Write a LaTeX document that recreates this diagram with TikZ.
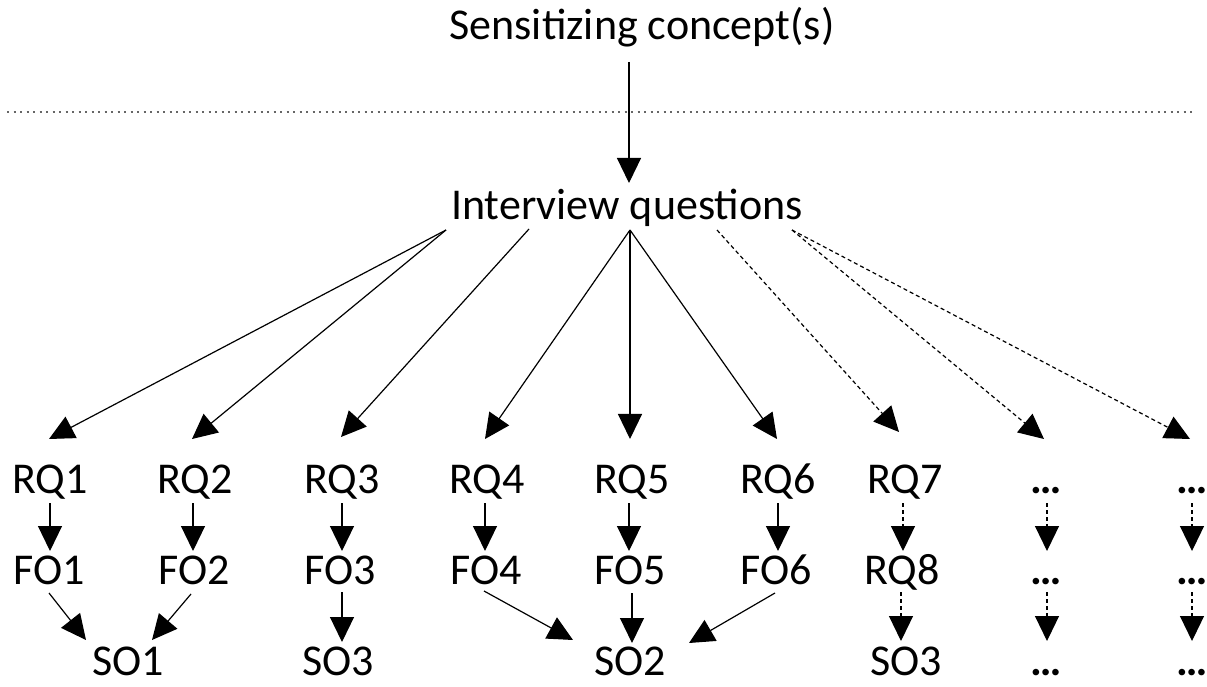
\documentclass[tikz,border=0pt]{standalone}
\usepackage{fontspec}
\setmainfont{Carlito}
\usetikzlibrary{arrows.meta}
\tikzset{
  txt/.style={inner sep=0pt, anchor=base, font=\fontsize{44}{50}\selectfont},
  dots/.style={txt, font=\fontsize{44}{50}\selectfont\bfseries},
  arr/.style={line width=1.2pt, -{Triangle[width=24pt,length=25pt]}},
  darr/.style={arr, dash pattern=on 4pt off 3pt},
  sep/.style={line width=2.2pt, black!60, dash pattern=on 2.2pt off 4.3pt}
}
\newcommand{\at}[3]{([shift={(#2,#3)}]#1.base)}
\begin{document}
\begin{tikzpicture}[x=1pt,y=1pt]
\useasboundingbox (0,0) rectangle (1207,686);
% top
\node[txt] (sc) at (642,646) {Sensitizing concept(s)};
\node[txt] (iq) at (627,466) {Interview questions};
\coordinate (sepL) at (7,574);
\coordinate (sepR) at (1192,574);
\draw[sep] (sepL) -- (sepR);
% RQ row
\node[txt] (rq1) at (50,193) {RQ1};
\node[txt] (rq2) at (195,193) {RQ2};
\node[txt] (rq3) at (342,193) {RQ3};
\node[txt] (rq4) at (487,193) {RQ4};
\node[txt] (rq5) at (632,193) {RQ5};
\node[txt] (rq6) at (778,193) {RQ6};
\node[txt] (rq7) at (905,193) {RQ7};
\node[dots] (e1) at (1046,193) {…};
\node[dots] (f1) at (1192,193) {…};
% FO row
\node[txt] (fo1) at (49,102) {FO1};
\node[txt] (fo2) at (194,102) {FO2};
\node[txt] (fo3) at (340,102) {FO3};
\node[txt] (fo4) at (486,102) {FO4};
\node[txt] (fo5) at (630,102) {FO5};
\node[txt] (fo6) at (776,102) {FO6};
\node[txt] (rq8) at (902,102) {RQ8};
\node[dots] (e2) at (1046,102) {…};
\node[dots] (f2) at (1192,102) {…};
% SO row
\node[txt] (so1) at (128,11) {SO1};
\node[txt] (so3) at (338,11) {SO3};
\node[txt] (so2) at (630,11) {SO2};
\node[txt] (so3b) at (906,11) {SO3};
\node[dots] (e3) at (1046,11) {…};
\node[dots] (f3) at (1192,11) {…};
% arrows top
\draw[arr] \at{sc}{-13}{-22} -- \at{iq}{2}{37};
\draw[arr] \at{iq}{-181}{-10} -- \at{rq1}{-1}{54};
\draw[arr] \at{iq}{-181}{-10} -- \at{rq2}{-3}{54};
\draw[arr] \at{iq}{-98}{-9} -- \at{rq3}{-1}{56};
\draw[arr] \at{iq}{3}{-10} -- \at{rq4}{-2}{54};
\draw[arr] \at{iq}{3}{-10} -- \at{rq5}{-2}{54};
\draw[arr] \at{iq}{3}{-10} -- \at{rq6}{-1}{54};
\draw[darr] \at{iq}{90}{-10} -- \at{rq7}{-6}{61};
\draw[darr] \at{iq}{165}{-10} -- \at{e1}{-2}{54};
\draw[darr] \at{iq}{165}{-10} -- \at{f1}{-2}{54};
% RQ -> FO
\draw[arr] \at{rq1}{0}{-10} -- \at{fo1}{1}{33};
\draw[arr] \at{rq2}{-2}{-10} -- \at{fo2}{-1}{33};
\draw[arr] \at{rq3}{0}{-10} -- \at{fo3}{2}{33};
\draw[arr] \at{rq4}{-2}{-10} -- \at{fo4}{-1}{33};
\draw[arr] \at{rq5}{-3}{-10} -- \at{fo5}{-1}{33};
\draw[arr] \at{rq6}{0}{-10} -- \at{fo6}{2}{33};
\draw[darr] \at{rq7}{-2}{-10} -- \at{rq8}{1}{33};
\draw[darr] \at{e1}{1}{-10} -- \at{e2}{1}{33};
\draw[darr] \at{f1}{0}{-10} -- \at{f2}{0}{33};
% FO -> SO
\draw[arr] \at{fo1}{0}{-9} -- \at{so1}{-42}{35};
\draw[arr] \at{fo2}{-3}{-10} -- \at{so1}{24}{35};
\draw[arr] \at{fo3}{2}{-8} -- \at{so3}{4}{33};
\draw[arr] \at{fo4}{-2}{-7} -- \at{so2}{-57}{35};
\draw[arr] \at{fo5}{2}{-9} -- \at{so2}{2}{32};
\draw[arr] \at{fo6}{-1}{-9} -- \at{so2}{59}{32};
\draw[darr] \at{rq8}{-1}{-8} -- \at{so3b}{-5}{34};
\draw[darr] \at{e2}{1}{-8} -- \at{e3}{1}{34};
\draw[darr] \at{f2}{0}{-8} -- \at{f3}{0}{34};
\end{tikzpicture}
\end{document}
